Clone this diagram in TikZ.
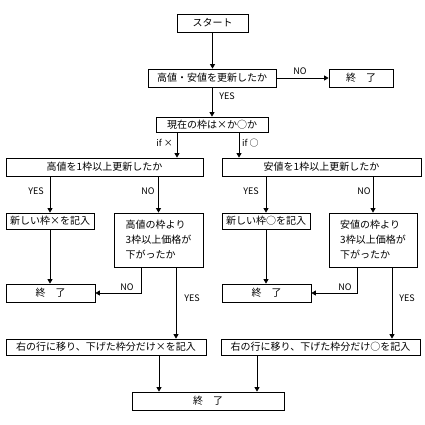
\documentclass[tikz,border=0pt]{standalone}
\usepackage{fontspec}
\setmainfont{Noto Sans CJK JP}
\usetikzlibrary{arrows.meta}
\tikzset{
  box/.style={draw, line width=0.8pt, rectangle, inner sep=0pt, font=\fontsize{10pt}{15pt}\selectfont},
  arr/.style={line width=0.8pt, -{Triangle[length=4.5pt,width=5pt]}},
  ln/.style={line width=0.8pt},
  lbl/.style={inner sep=0pt, font=\fontsize{9pt}{10pt}\selectfont}
}
\begin{document}
\begin{tikzpicture}[x=1pt,y=-1pt]
\useasboundingbox[fill=white] (0,0) rectangle (425,425);
% nodes
\node[box, minimum width=71pt, minimum height=18pt] (start) at (212.5,23) {スタート};
\node[box, minimum width=128pt, minimum height=18pt] (q1) at (212,78) {高値・安値を更新したか};
\node[box, minimum width=64pt, minimum height=18pt] (end1) at (361,78) {終　了};
\node[box, minimum width=112pt, minimum height=15pt] (q2) at (212,124.5) {現在の枠は×か○か};
\node[box, minimum width=197pt, minimum height=18pt] (L1) at (104.5,167) {高値を1枠以上更新したか};
\node[box, minimum width=199pt, minimum height=18pt] (R1) at (321.5,167) {安値を1枠以上更新したか};
\node[box, minimum width=88pt, minimum height=16pt] (L2a) at (50,221) {新しい枠×を記入};
\node[box, minimum width=89pt, minimum height=54pt, align=left] (L2b) at (158.5,240) {高値の枠より\\3枠以上価格が\\下がったか};
\node[box, minimum width=89pt, minimum height=18pt] (L3) at (50.5,293) {終　了};
\node[box, minimum width=88pt, minimum height=16pt] (R2a) at (266,221) {新しい枠○を記入};
\node[box, minimum width=88pt, minimum height=54pt, align=left] (R2b) at (373,240) {安値の枠より\\3枠以上価格が\\下がったか};
\node[box, minimum width=89pt, minimum height=18pt] (R3) at (266.5,293) {終　了};
\node[box, minimum width=200pt, minimum height=16pt] (L4) at (106,347) {右の行に移り、下げた枠分だけ×を記入};
\node[box, minimum width=199pt, minimum height=16pt] (R4) at (320.5,347) {右の行に移り、下げた枠分だけ○を記入};
\node[box, minimum width=152pt, minimum height=18pt] (fin) at (208,401) {終　了};
% helper coordinates
\coordinate (qx) at ([xshift=-35pt]q2.south);
\coordinate (qo) at ([xshift=27pt]q2.south);
\coordinate (lno) at ([xshift=-17.5pt]L2b.south);
\coordinate (lyes) at ([xshift=17.5pt]L2b.south);
\coordinate (rno) at ([xshift=-16pt]R2b.south);
\coordinate (ryes) at ([xshift=19pt]R2b.south);
\coordinate (f1) at ([xshift=-49pt]fin.north);
\coordinate (f2) at ([xshift=49pt]fin.north);
% connectors
\draw[arr] (start.south) -- (start.south |- q1.north);
\draw[arr] (q1.east) -- (end1.west);
\draw[arr] (q1.south) -- (q2.north);
\draw[arr] (qx) -- (qx |- L1.north);
\draw[arr] (qo) -- (qo |- R1.north);
\draw[arr] (L2a.north |- L1.south) -- (L2a.north);
\draw[arr] (L2b.north |- L1.south) -- (L2b.north);
\draw[arr] (L2a.south) -- (L2a.south |- L3.north);
\draw[arr] (lno) |- (L3.east);
\draw[arr] (lyes) -- (lyes |- L4.north);
\draw[arr] (R2a.north |- R1.south) -- (R2a.north);
\draw[arr] (R2b.north |- R1.south) -- (R2b.north);
\draw[arr] (R2a.south) -- (R2a.south |- R3.north);
\draw[arr] (rno) |- (R3.east);
\draw[arr] (ryes) -- (ryes |- R4.north);
\draw[arr] (L4.south -| f1) -- (f1);
\draw[arr] (R4.south -| f2) -- (f2);
% labels
\node[lbl] (t1) at (300,71) {NO};
\node[lbl] (t2) at (227,96) {YES};
\node[lbl, anchor=east] (t3) at (173,143) {if ×};
\node[lbl, anchor=west] (t4) at (242,143) {if ○};
\node[lbl] (t5) at (36,191) {YES};
\node[lbl] (t6) at (148,191) {NO};
\node[lbl] (t7) at (251,191) {YES};
\node[lbl] (t8) at (364,191) {NO};
\node[lbl] (t9) at (127,287) {NO};
\node[lbl] (t10) at (192,298) {YES};
\node[lbl] (t11) at (345,287) {NO};
\node[lbl] (t12) at (407,298) {YES};
\end{tikzpicture}
\end{document}
